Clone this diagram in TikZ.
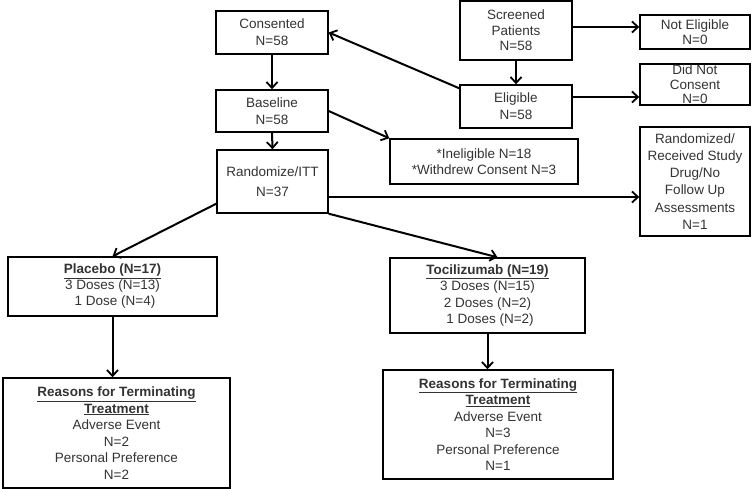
\documentclass[tikz,border=0pt]{standalone}
\usepackage{fontspec}
\setmainfont{Liberation Sans}
\usetikzlibrary{arrows.meta}
\definecolor{txt}{gray}{0.2}
\tikzset{
  box/.style={draw=black, line width=1.4pt, inner sep=0pt, align=center, text=txt,
    font=\fontsize{13.5}{17}\selectfont},
  arr/.style={line width=2pt, -{Straight Barb[length=6pt,width=11pt,line width=1.8pt]}},
}
\begin{document}
\begin{tikzpicture}[x=1pt,y=-1pt]
\useasboundingbox (0,0) rectangle (753,489);
\node[box, minimum width=112pt, minimum height=43pt] (cons) at (272,32.5) {Consented\\N=58};
\node[box, minimum width=112pt, minimum height=42pt] (base) at (272,111) {Baseline\\N=58};
\node[box, minimum width=111pt, minimum height=63pt] (rand) at (272.5,181.5) {Randomize/ITT\\[3pt]N=37};
\node[box, minimum width=112pt, minimum height=59pt, font=\fontsize{13.5}{15.5}\selectfont] (scr) at (516,30.5) {Screened\\Patients\\N=58};
\node[box, minimum width=112pt, minimum height=43pt] (elig) at (516,106.5) {Eligible\\N=58};
\node[box, minimum width=110pt, minimum height=34pt, font=\fontsize{13.5}{15}\selectfont] (nelig) at (695,32) {Not Eligible\\N=0};
\node[box, minimum width=110pt, minimum height=41pt, font=\fontsize{13.5}{14.5}\selectfont] (dnc) at (695,84.5) {Did Not\\Consent\\N=0};
\node[box, minimum width=188pt, minimum height=45pt, font=\fontsize{13.5}{16}\selectfont] (inel) at (484,161.5) {*Ineligible N=18\\*Withdrew Consent N=3};
\node[box, minimum width=110pt, minimum height=109pt, font=\fontsize{13.5}{17.2}\selectfont] (rnf) at (695,181.5) {Randomized/\\Received Study\\Drug/No\\Follow Up\\Assessments\\N=1};
\node[box, minimum width=209pt, minimum height=59pt, font=\fontsize{13.5}{16}\selectfont] (plac) at (112.5,286.5) {\underline{\textbf{Placebo (N=17)}}\\3 Doses (N=13)\\\hspace{5pt}1 Dose (N=4)};
\node[box, minimum width=195pt, minimum height=75pt, font=\fontsize{13.5}{16.5}\selectfont] (toc) at (487.5,295.5) {\underline{\textbf{Tocilizumab (N=19)}}\\3 Doses (N=15)\\2 Doses (N=2)\\\hspace{5pt}1 Doses (N=2)};
\node[box, minimum width=227pt, minimum height=110pt, font=\fontsize{13.5}{16.5}\selectfont] (prea) at (116.5,433) {\underline{\textbf{Reasons for Terminating}}\\\underline{\textbf{Treatment}}\\Adverse Event\\N=2\\Personal Preference\\N=2};
\node[box, minimum width=230pt, minimum height=109pt, font=\fontsize{13.5}{16.5}\selectfont] (trea) at (498,424.5) {\underline{\textbf{Reasons for Terminating}}\\\underline{\textbf{Treatment}}\\Adverse Event\\N=3\\Personal Preference\\N=1};

\draw[arr] (cons.south) -- (base.north);
\draw[arr] (base.south) -- (rand.north);
\draw[arr] (scr.south) -- (elig.north);
\draw[arr] ([yshift=3.5pt]scr.east) -- ([yshift=3.5pt]scr.east -| nelig.west);
\draw[arr] ([yshift=9.5pt]elig.east) -- ([yshift=9.5pt]elig.east -| dnc.west);
\draw[arr] ([yshift=-4pt]elig.north west) -- (cons.east);
\draw[arr] (base.east) -- (inel.north west);
\draw[arr] ([yshift=-15.5pt]rand.east) -- ([yshift=-15.5pt]rand.east -| rnf.west);
\draw[arr] ([yshift=10pt]rand.south west) -- (plac.north);
\draw[arr] (rand.south east) -- ([xshift=10pt]toc.north);
\draw[arr] (plac.south) -- (plac.south |- prea.north);
\draw[arr] (toc.south) -- (toc.south |- trea.north);
\end{tikzpicture}
\end{document}
